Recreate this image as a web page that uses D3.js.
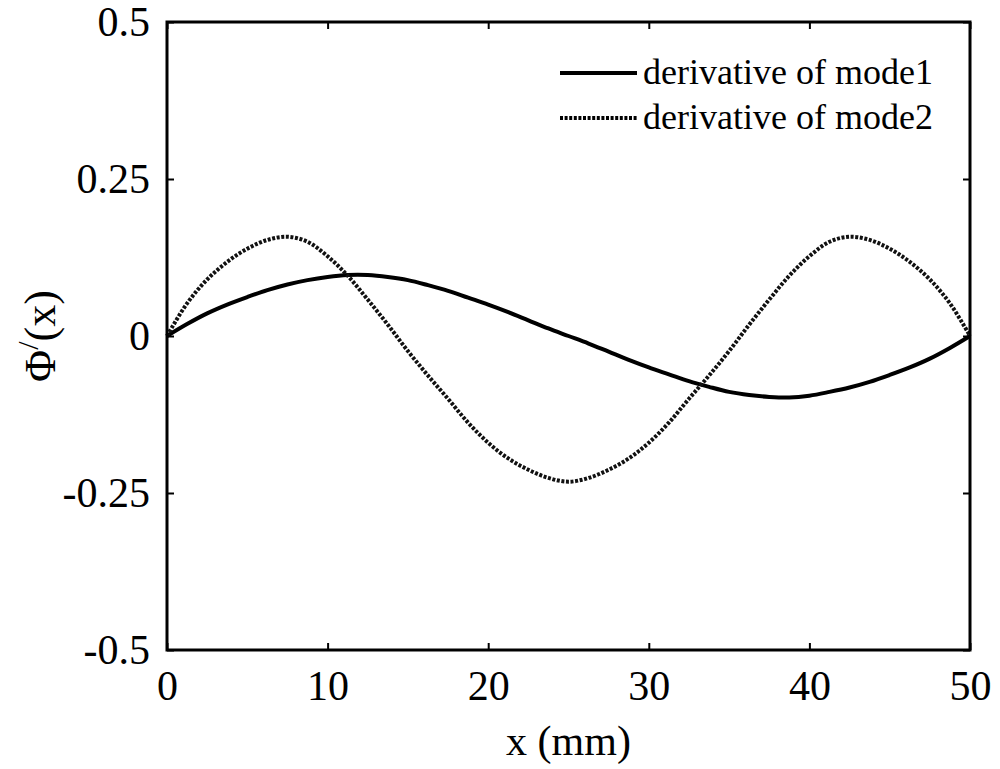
<!DOCTYPE html>
<html>
<head>
<meta charset="utf-8">
<script src="https://cdnjs.cloudflare.com/ajax/libs/d3/7.8.5/d3.min.js"></script>
<style>
  body { margin: 0; background: #fff; }
  text { font-family: "Liberation Serif", "Times New Roman", serif; fill: #000; }
</style>
</head>
<body>
<div id="chart"></div>
<script>
// values (x in mm)
var xs = [0, 1.25, 2.5, 3.75, 5, 6.25, 7.5, 8.75, 10, 11.25, 12.5, 13.75, 15, 16.25, 17.5, 18.75, 20, 21.25, 22.5, 23.75, 25,
          26.25, 27.5, 28.75, 30, 31.25, 32.5, 33.75, 35, 36.25, 37.5, 38.75, 40, 41.25, 42.5, 43.75, 45, 46.25, 47.5, 48.75, 50];
var mode1 = [0, 0.019, 0.036, 0.050, 0.062, 0.073, 0.082, 0.089, 0.094, 0.097, 0.097, 0.094, 0.089, 0.081, 0.072, 0.061, 0.050, 0.038, 0.025, 0.012, 0,
             -0.012, -0.025, -0.038, -0.050, -0.061, -0.072, -0.081, -0.089, -0.094, -0.097, -0.098, -0.095, -0.089, -0.082, -0.073, -0.062, -0.050, -0.036, -0.019, 0];
var mode2 = [0, 0.052, 0.090, 0.118, 0.139, 0.153, 0.158, 0.150, 0.127, 0.096, 0.058, 0.018, -0.024, -0.063, -0.100, -0.138, -0.170, -0.195, -0.213, -0.226, -0.232,
             -0.226, -0.213, -0.195, -0.170, -0.138, -0.100, -0.063, -0.024, 0.018, 0.058, 0.096, 0.127, 0.150, 0.158, 0.153, 0.139, 0.118, 0.090, 0.052, 0];

var xTicks = [0, 10, 20, 30, 40, 50];
var yTicks = [-0.5, -0.25, 0, 0.25, 0.5];
var yTickLabels = ["-0.5", "-0.25", "0", "0.25", "0.5"];
var seriesNames = ["derivative of mode1", "derivative of mode2"];

(function () {
    var W = 1000, H = 769;
    var mLeft = 167, mRight = 970, mTop = 22, mBottom = 650;

    var svg = d3.select("#chart").append("svg")
        .attr("width", W)
        .attr("height", H);

    var x = d3.scaleLinear().domain([0, 50]).range([mLeft, mRight]);
    var y = d3.scaleLinear().domain([-0.5, 0.5]).range([mBottom, mTop]);

    // curves
    var line = d3.line()
        .x(function (d) { return x(d[0]); })
        .y(function (d) { return y(d[1]); })
        .curve(d3.curveCatmullRom);

    var data1 = xs.map(function (v, i) { return [v, mode1[i]]; });
    var data2 = xs.map(function (v, i) { return [v, mode2[i]]; });

    svg.append("path")
        .datum(data1)
        .attr("d", line)
        .attr("fill", "none")
        .attr("stroke", "#000")
        .attr("stroke-width", 4);

    svg.append("path")
        .datum(data2)
        .attr("d", line)
        .attr("fill", "none")
        .attr("stroke", "#111")
        .attr("stroke-width", 4)
        .attr("stroke-dasharray", "3,1.6");

    // axes, ticks pointing inside
    var tickLen = 7;
    svg.append("g")
        .attr("transform", "translate(0," + mBottom + ")")
        .call(d3.axisBottom(x).tickValues(xTicks).tickSizeInner(-tickLen).tickSizeOuter(0).tickPadding(20))
        .call(function (g) {
            g.select(".domain").remove();
            g.selectAll("line").attr("stroke-width", 2);
            g.selectAll("text").attr("font-size", 42);
        });

    svg.append("g")
        .attr("transform", "translate(0," + mTop + ")")
        .call(d3.axisTop(x).tickValues(xTicks).tickSizeInner(-tickLen).tickSizeOuter(0).tickFormat(""))
        .call(function (g) {
            g.select(".domain").remove();
            g.selectAll("line").attr("stroke-width", 2);
        });

    svg.append("g")
        .attr("transform", "translate(" + mLeft + ",0)")
        .call(d3.axisLeft(y).tickValues(yTicks).tickSizeInner(-tickLen).tickSizeOuter(0).tickPadding(17)
            .tickFormat(function (d, i) { return yTickLabels[i]; }))
        .call(function (g) {
            g.select(".domain").remove();
            g.selectAll("line").attr("stroke-width", 2);
            g.selectAll("text").attr("font-size", 42);
        });

    svg.append("g")
        .attr("transform", "translate(" + mRight + ",0)")
        .call(d3.axisRight(y).tickValues(yTicks).tickSizeInner(-tickLen).tickSizeOuter(0).tickFormat(""))
        .call(function (g) {
            g.select(".domain").remove();
            g.selectAll("line").attr("stroke-width", 2);
        });

    // frame
    svg.append("rect")
        .attr("x", mLeft)
        .attr("y", mTop)
        .attr("width", mRight - mLeft)
        .attr("height", mBottom - mTop)
        .attr("fill", "none")
        .attr("stroke", "#000")
        .attr("stroke-width", 3);

    // axis labels
    svg.append("text")
        .attr("x", (mLeft + mRight) / 2)
        .attr("y", 755)
        .attr("text-anchor", "middle")
        .attr("font-size", 42)
        .text("x (mm)");

    var yl = svg.append("text")
        .attr("transform", "translate(55," + y(0) + ") rotate(-90)")
        .attr("text-anchor", "middle")
        .attr("font-size", 44);
    yl.append("tspan").text("\u03A6");
    yl.append("tspan").attr("font-size", 30).attr("dy", -17).text("/");
    yl.append("tspan").attr("dy", 17).text("(x)");

    // legend
    var legend = svg.append("g");
    seriesNames.forEach(function (name, i) {
        var ly = 73 + i * 45;
        legend.append("line")
            .attr("x1", 560).attr("x2", 637)
            .attr("y1", ly).attr("y2", ly)
            .attr("stroke", "#000")
            .attr("stroke-width", 4)
            .attr("stroke-dasharray", i === 0 ? null : "3,1.6");
        legend.append("text")
            .attr("x", 643)
            .attr("y", ly + 11)
            .attr("font-size", 36)
            .text(name);
    });
})();
</script>
</body>
</html>
